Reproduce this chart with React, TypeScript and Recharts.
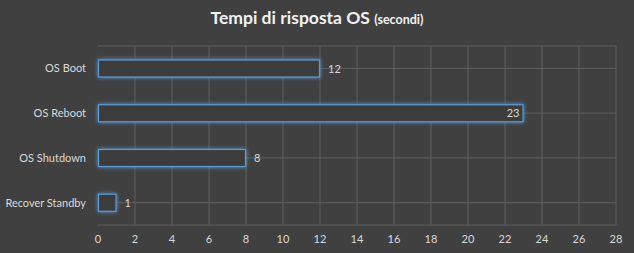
import React from 'react';
import {
    BarChart, Bar, XAxis, YAxis, CartesianGrid, LabelList,
} from 'recharts';

// Values
const categories = ['OS Boot', 'OS Reboot', 'OS Shutdown', 'Recover Standby'];
const seconds = [12, 23, 8, 1];
const xTicks = [0, 2, 4, 6, 8, 10, 12, 14, 16, 18, 20, 22, 24, 26, 28];

const data = categories.map((name, i) => ({ name, value: seconds[i] }));

const BG = '#404040';
const TEXT = '#d9d9d9';
const BLUE = '#5b9bd5';
const FONT = 'Lato, "Open Sans", sans-serif';
const X_MAX = 28;

function GlowBar(props: any) {
    const { x, y, width, height } = props;
    return (
        <rect
            x={x + 0.5}
            y={y}
            width={Math.max(width - 1, 0)}
            height={height}
            fill="#3c3c3c"
            stroke={BLUE}
            strokeWidth={1.2}
            style={{ filter: `drop-shadow(0 0 2px ${BLUE})` }}
        />
    );
}

function ValueLabel(props: any) {
    const { x, y, width, height, value } = props;
    // the longest bar has its label inside, at the end
    const inside = value > 20;
    const lx = inside ? x + width - 4 : x + width + 8;
    return (
        <text
            x={lx}
            y={y + height / 2}
            dy={4}
            textAnchor={inside ? 'end' : 'start'}
            fill={TEXT}
            fontSize={11}
            fontFamily={FONT}
        >
            {value}
        </text>
    );
}

// category tick without word wrapping
function CategoryTick(props: any) {
    const { x, y, payload } = props;
    return (
        <text x={x} y={y} dy={4} textAnchor="end" fill={TEXT} fontSize={11} fontFamily={FONT}>
            {payload.value}
        </text>
    );
}

// vertical grid lines, skipping the one on the zero value
const verticalLines = ({ offset }: any) =>
    xTicks.filter(t => t > 0).map(t => offset.left + (t / X_MAX) * offset.width);

export default function App() {
    return (
        <div style={{ position: 'absolute', left: 0, top: 0, width: 634, height: 253, background: BG }}>
            <div
                style={{
                    position: 'absolute', left: 0, top: 7, width: 634, textAlign: 'center',
                    color: '#f2f2f2', fontFamily: FONT, fontWeight: 700, fontSize: 17.5,
                }}
            >
                Tempi di risposta OS <span style={{ fontSize: 12.5 }}>(secondi)</span>
            </div>
            <BarChart
                width={634}
                height={253}
                data={data}
                layout="vertical"
                margin={{ top: 46, right: 18, left: 0, bottom: 0 }}
                barSize={17}
            >
                <CartesianGrid stroke="#5e5e5e" strokeWidth={1} verticalCoordinatesGenerator={verticalLines} />
                <XAxis
                    type="number"
                    domain={[0, X_MAX]}
                    ticks={xTicks}
                    interval={0}
                    axisLine={false}
                    tickLine={false}
                    height={28}
                    tick={{ fill: TEXT, fontSize: 11, fontFamily: FONT }}
                    tickMargin={4}
                />
                <YAxis
                    type="category"
                    dataKey="name"
                    width={98}
                    axisLine={false}
                    tickLine={false}
                    tick={CategoryTick}
                    tickMargin={6}
                />
                <Bar dataKey="value" shape={GlowBar} isAnimationActive={false}>
                    <LabelList dataKey="value" content={ValueLabel} />
                </Bar>
            </BarChart>
        </div>
    );
}
